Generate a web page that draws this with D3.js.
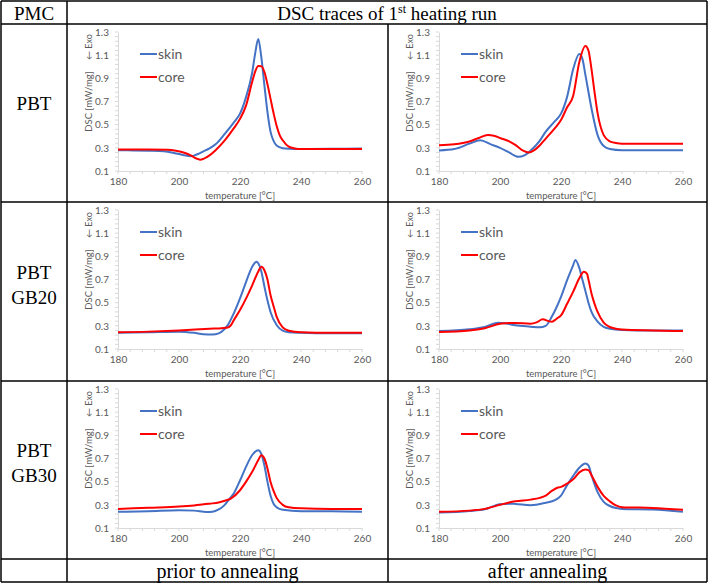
<!DOCTYPE html>
<html>
<head>
<meta charset="utf-8">
<script src="https://cdn.jsdelivr.net/npm/d3@7"></script>
<style>
  body { margin: 0; background: #fff; }
  .cell-text { font-family: "Liberation Serif", "Times New Roman", serif; fill: #000; }
  .axis path, .axis line { stroke: #d9d9d9; }
  .axis text { fill: #595959; font-family: Lato, "Noto Sans", sans-serif; font-size: 10px; }
  .chart-text { fill: #595959; font-family: Lato, "Noto Sans", sans-serif; }
</style>
</head>
<body>
<script>
// temperature axis ticks and DSC axis ticks
var tempTicks = [180, 200, 220, 240, 260];
var dscTicks = [0.1, 0.3, 0.5, 0.7, 0.9, 1.1, 1.3];
var seriesNames = ["skin", "core"];
var seriesColors = ["#4472c4", "#ff0000"];
var rowLabels = [["PBT"], ["PBT", "GB20"], ["PBT", "GB30"]];
var colLabels = ["prior to annealing", "after annealing"];

// PBT, prior to annealing  [temperature, DSC]
var pbtPriorSkin = [[180,0.28],[185,0.278],[190,0.275],[195,0.27],[198,0.258],[201,0.24],[204,0.227],[206,0.245],[208,0.27],[210,0.295],[212,0.33],[215,0.42],[218,0.52],[220,0.595],[222,0.74],[224,0.95],[225,1.12],[226,1.24],[227,1.08],[228,0.84],[229,0.61],[230,0.44],[231,0.36],[232,0.32],[234,0.297],[236,0.292],[240,0.29],[250,0.292],[260,0.295]];
var pbtPriorCore = [[180,0.285],[190,0.285],[196,0.283],[199,0.275],[202,0.255],[204,0.232],[206,0.205],[207,0.198],[208,0.205],[210,0.235],[212,0.28],[215,0.365],[218,0.47],[220,0.55],[222,0.667],[224,0.87],[225,0.96],[226,1.006],[227,1.005],[228,0.955],[229,0.85],[230,0.725],[231,0.6],[232,0.49],[233,0.41],[234,0.365],[236,0.31],[238,0.295],[240,0.29],[250,0.29],[260,0.29]];
// PBT, after annealing
var pbtAfterSkin = [[180,0.278],[185,0.29],[190,0.336],[193.5,0.365],[197,0.33],[200,0.3],[203,0.26],[206,0.222],[208,0.235],[210,0.275],[213,0.36],[215,0.44],[218,0.53],[220,0.595],[222,0.74],[224,0.98],[226,1.11],[227,1.07],[228,0.93],[230,0.64],[232,0.41],[234,0.315],[236,0.29],[240,0.28],[250,0.28],[260,0.28]];
var pbtAfterCore = [[180,0.322],[185,0.33],[190,0.355],[193,0.385],[196,0.41],[198,0.405],[200,0.385],[203,0.355],[205,0.325],[207,0.285],[209.5,0.26],[211,0.275],[213,0.32],[215,0.38],[218,0.47],[220,0.54],[222,0.65],[224,0.75],[226,1.04],[228,1.18],[229,1.14],[230,0.98],[231,0.78],[232,0.6],[234,0.41],[236,0.356],[238,0.342],[240,0.336],[250,0.336],[260,0.336]];
// PBT GB20, prior to annealing
var gb20PriorSkin = [[180,0.24],[190,0.245],[200,0.25],[205,0.24],[208,0.228],[211,0.225],[213,0.235],[214,0.25],[216,0.306],[218,0.41],[220,0.537],[222,0.68],[224,0.81],[225.4,0.854],[226,0.84],[227,0.77],[228,0.64],[229,0.52],[230,0.42],[232,0.307],[234,0.258],[236,0.245],[240,0.24],[250,0.235],[260,0.235]];
var gb20PriorCore = [[180,0.245],[190,0.25],[200,0.26],[210,0.275],[214,0.28],[216,0.285],[217,0.305],[218,0.35],[220,0.436],[222,0.537],[224,0.65],[226,0.77],[227,0.81],[228,0.78],[229,0.7],[230,0.566],[231,0.47],[232,0.38],[234,0.287],[236,0.258],[240,0.245],[250,0.24],[260,0.24]];
// PBT GB20, after annealing
var gb20AfterSkin = [[180,0.255],[190,0.27],[195,0.29],[199.5,0.327],[202,0.32],[205,0.305],[210,0.293],[213,0.287],[215,0.3],[217,0.38],[218,0.43],[220,0.55],[222,0.695],[224,0.825],[224.7,0.868],[226,0.8],[227,0.7],[228,0.6],[229,0.5],[230,0.42],[232,0.336],[234,0.29],[236,0.275],[240,0.265],[250,0.26],[260,0.26]];
var gb20AfterCore = [[180,0.247],[190,0.26],[195,0.28],[200,0.318],[203,0.325],[205,0.325],[210,0.318],[212,0.33],[214,0.356],[216,0.34],[217,0.335],[218,0.35],[219,0.37],[220,0.39],[222,0.49],[224,0.595],[226,0.71],[227.5,0.767],[228.5,0.75],[229,0.7],[230,0.58],[231,0.49],[232,0.42],[234,0.327],[236,0.29],[238,0.275],[240,0.268],[250,0.26],[260,0.255]];
// PBT GB30, prior to annealing
var gb30PriorSkin = [[180,0.24],[190,0.245],[200,0.253],[205,0.25],[209,0.238],[211,0.24],[213,0.26],[215,0.3],[216.6,0.354],[218,0.4],[220,0.51],[222,0.63],[224,0.73],[226,0.772],[227,0.74],[228,0.64],[229,0.5],[230,0.38],[231,0.31],[232,0.28],[234,0.257],[240,0.245],[250,0.245],[260,0.24]];
var gb30PriorCore = [[180,0.265],[190,0.275],[200,0.285],[205,0.295],[210,0.31],[213,0.32],[215,0.335],[217,0.354],[220,0.426],[222,0.5],[224,0.585],[226,0.686],[227,0.729],[228,0.7],[229,0.614],[230,0.5],[231,0.42],[232,0.36],[234,0.3],[236,0.279],[240,0.27],[250,0.265],[260,0.265]];
// PBT GB30, after annealing
var gb30AfterSkin = [[180,0.233],[190,0.247],[195,0.262],[200,0.305],[203,0.31],[205,0.308],[210,0.296],[215,0.318],[218,0.34],[220,0.38],[222,0.47],[224,0.55],[226,0.62],[228,0.657],[229,0.64],[230,0.556],[232,0.41],[234,0.325],[236,0.29],[238,0.272],[240,0.265],[250,0.26],[260,0.24]];
var gb30AfterCore = [[180,0.24],[190,0.25],[195,0.265],[200,0.3],[203,0.32],[205,0.33],[210,0.345],[213,0.36],[215,0.38],[217,0.42],[219,0.45],[220,0.455],[222,0.484],[224,0.52],[226,0.58],[228,0.605],[229,0.6],[230,0.556],[232,0.455],[234,0.377],[236,0.33],[238,0.295],[240,0.28],[250,0.273],[260,0.258]];

var panelData = [
  [[pbtPriorSkin, pbtPriorCore], [pbtAfterSkin, pbtAfterCore]],
  [[gb20PriorSkin, gb20PriorCore], [gb20AfterSkin, gb20AfterCore]],
  [[gb30PriorSkin, gb30PriorCore], [gb30AfterSkin, gb30AfterCore]]
];

//page size
var width = 709,
    height = 584;

//table grid
var colX = [1, 67, 388, 707],
    rowY = [1, 24, 202, 381, 559, 582];

var svg = d3.select("body")
    .append("svg")
    .attr("width", width)
    .attr("height", height);

//plot size inside each cell
var plotW = 244,
    plotH = 139;

var x = d3.scaleLinear().domain([180, 260]).range([0, plotW]);
var y = d3.scaleLinear().domain([0.1, 1.3]).range([plotH, 0]);

var line = d3.line()
    .x(function(d){ return x(d[0]); })
    .y(function(d){ return y(d[1]); })
    .curve(d3.curveMonotoneX);

//draw one DSC chart per cell
panelData.forEach(function(row, r){
    row.forEach(function(series, c){
        var left = colX[c + 1] + 51,
            top = rowY[r + 1] + 8;
        var g = svg.append("g")
            .attr("transform", "translate(" + left + "," + top + ")");

        //minor ticks
        var xMinor = d3.range(180, 260.1, 4);
        var yMinor = d3.range(0.1, 1.301, 0.04);
        g.selectAll(".xminor").data(xMinor).enter().append("line")
            .attr("x1", function(d){ return x(d); }).attr("x2", function(d){ return x(d); })
            .attr("y1", plotH).attr("y2", plotH + 3)
            .attr("stroke", "#d9d9d9");
        g.selectAll(".yminor").data(yMinor).enter().append("line")
            .attr("x1", -3).attr("x2", 0)
            .attr("y1", function(d){ return y(d); }).attr("y2", function(d){ return y(d); })
            .attr("stroke", "#d9d9d9");

        g.append("g")
            .attr("class", "axis")
            .attr("transform", "translate(0," + plotH + ")")
            .call(d3.axisBottom(x).tickValues(tempTicks).tickSize(0).tickPadding(7));

        g.append("g")
            .attr("class", "axis")
            .call(d3.axisLeft(y).tickValues(dscTicks).tickFormat(d3.format(".1f")).tickSize(0).tickPadding(9));

        g.append("text")
            .attr("class", "chart-text")
            .attr("x", plotW / 2)
            .attr("y", plotH + 28)
            .attr("text-anchor", "middle")
            .style("font-size", "9.5px")
            .text("temperature [°C]");

        g.append("text")
            .attr("class", "chart-text")
            .attr("transform", "translate(-26," + (plotH / 2) + ") rotate(-90)")
            .attr("text-anchor", "middle")
            .style("font-size", "9.5px")
            .text("DSC [mW/mg]");

        g.append("text")
            .attr("class", "chart-text")
            .attr("transform", "translate(-26,15) rotate(-90)")
            .attr("text-anchor", "middle")
            .style("font-size", "9px")
            .text("← Exo");

        //curves
        series.forEach(function(s, i){
            g.append("path")
                .datum(s)
                .attr("fill", "none")
                .attr("stroke", seriesColors[i])
                .attr("stroke-width", 2)
                .attr("d", line);
        });

        //legend
        seriesNames.forEach(function(name, i){
            var ly = 22 + i * 23;
            g.append("line")
                .attr("x1", 22).attr("x2", 39)
                .attr("y1", ly).attr("y2", ly)
                .attr("stroke", seriesColors[i])
                .attr("stroke-width", 2);
            g.append("text")
                .attr("class", "chart-text")
                .attr("x", 40)
                .attr("y", ly)
                .attr("dy", "0.35em")
                .style("font-size", "14px")
                .text(name);
        });
    });
});

//table borders
var grid = svg.append("g").attr("stroke", "#000").attr("stroke-width", 1.5);
rowY.forEach(function(yy){
    grid.append("line").attr("x1", colX[0]).attr("x2", colX[3]).attr("y1", yy).attr("y2", yy);
});
[colX[0], colX[1], colX[3]].forEach(function(xx){
    grid.append("line").attr("x1", xx).attr("x2", xx).attr("y1", rowY[0]).attr("y2", rowY[5]);
});
grid.append("line").attr("x1", colX[2]).attr("x2", colX[2]).attr("y1", rowY[1]).attr("y2", rowY[5]);

//header
svg.append("text")
    .attr("class", "cell-text")
    .attr("x", (colX[0] + colX[1]) / 2)
    .attr("y", 13)
    .attr("dy", "0.35em")
    .attr("text-anchor", "middle")
    .style("font-size", "19px")
    .text("PMC");

var head = svg.append("text")
    .attr("class", "cell-text")
    .attr("x", (colX[1] + colX[3]) / 2)
    .attr("y", 13)
    .attr("dy", "0.35em")
    .attr("text-anchor", "middle")
    .style("font-size", "19px");
head.append("tspan").text("DSC traces of 1");
head.append("tspan").attr("baseline-shift", "super").style("font-size", "12px").text("st");
head.append("tspan").text(" heating run");

//row labels
var rowCenters = [103, 284.5, 462.5];
rowLabels.forEach(function(lines, r){
    lines.forEach(function(txt, k){
        svg.append("text")
            .attr("class", "cell-text")
            .attr("x", (colX[0] + colX[1]) / 2)
            .attr("y", rowCenters[r] + (k - (lines.length - 1) / 2) * 25)
            .attr("dy", "0.35em")
            .attr("text-anchor", "middle")
            .style("font-size", "19px")
            .text(txt);
    });
});

//footer labels
colLabels.forEach(function(txt, c){
    svg.append("text")
        .attr("class", "cell-text")
        .attr("x", (colX[c + 1] + colX[c + 2]) / 2)
        .attr("y", 571)
        .attr("dy", "0.35em")
        .attr("text-anchor", "middle")
        .style("font-size", "20px")
        .text(txt);
});
</script>
</body>
</html>
